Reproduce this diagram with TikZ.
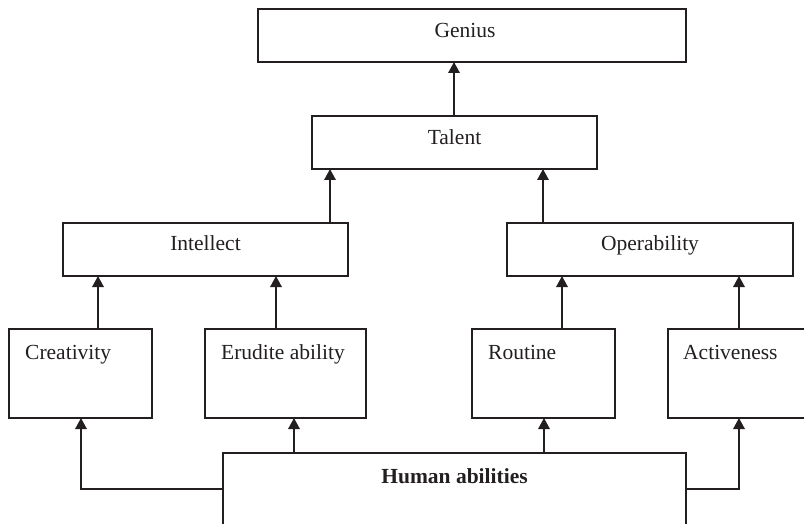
\documentclass[tikz,border=0pt]{standalone}
\usepackage{fontspec}
\setmainfont{Liberation Serif}
\usetikzlibrary{arrows.meta}
\definecolor{inkc}{HTML}{231F20}
\begin{document}
\begin{tikzpicture}[x=1pt,y=-1pt,
  ink/.style={draw=inkc, line width=1.6pt},
  box/.style 2 args={ink, rectangle, inner sep=0pt, outer sep=0pt,
    anchor=north west, minimum width=#1, minimum height=#2},
  lbl/.style={text=inkc, inner sep=0pt, font=\fontsize{21.5}{26}\selectfont},
  arr/.style={ink, -{Triangle[length=11pt,width=11.5pt]}}
]
\clip (0,0) rectangle (804,524);

% boxes
\node[box={428pt}{53pt}] (genius)      at (258,9)   {};
\node[box={285pt}{53pt}] (talent)      at (312,116) {};
\node[box={285pt}{53pt}] (intellect)   at (63,223)  {};
\node[box={286pt}{53pt}] (operability) at (507,223) {};
\node[box={143pt}{89pt}] (creativity)  at (9,329)   {};
\node[box={161pt}{89pt}] (erudite)     at (205,329) {};
\node[box={143pt}{89pt}] (routine)     at (472,329) {};
\node[box={160pt}{89pt}] (activeness)  at (668,329) {};
\node[box={463pt}{100pt}] (human)      at (223,453) {};

% labels
\node[lbl, anchor=base] (tgenius)      at (465,37.5)    {Genius};
\node[lbl, anchor=base] (ttalent)      at (454.5,144.3) {Talent};
\node[lbl, anchor=base] (tintellect)   at (205.5,250.7) {Intellect};
\node[lbl, anchor=base] (toperability) at (650,250.7)   {Operability};
\node[lbl, anchor=base west] (tcreativity) at (25,359)  {Creativity};
\node[lbl, anchor=base west] (terudite)    at (221,359) {Erudite ability};
\node[lbl, anchor=base west] (troutine)    at (488,359) {Routine};
\node[lbl, anchor=base west] (tactiveness) at (683,359) {Activeness};
\node[lbl, anchor=base, font=\fontsize{21.5}{26}\selectfont\bfseries] (thuman)
  at (454.5,483.3) {Human abilities};

% connector end points on the box borders
\coordinate (ttop) at ([xshift=142pt]talent.north west);
\coordinate (itop) at ([xshift=267pt]intellect.north west);
\coordinate (otop) at ([xshift=36pt]operability.north west);
\coordinate (ctop) at ([xshift=89pt]creativity.north west);
\coordinate (etop) at ([xshift=71pt]erudite.north west);
\coordinate (rtop) at ([xshift=90pt]routine.north west);
\coordinate (atop) at ([xshift=71pt]activeness.north west);
\coordinate (cbot) at ([xshift=72pt]creativity.south west);
\coordinate (abot) at ([xshift=71pt]activeness.south west);
\coordinate (hleft)  at ([yshift=-36pt]human.north west);
\coordinate (hright) at ([yshift=-36pt]human.north east);
\coordinate (hte) at ([xshift=71pt]human.north west);
\coordinate (htr) at ([xshift=321pt]human.north west);

% connectors
\draw[arr] (ttop) -- (ttop |- genius.south);
\draw[arr] (itop) -- (itop |- talent.south);
\draw[arr] (otop) -- (otop |- talent.south);
\draw[arr] (ctop) -- (ctop |- intellect.south);
\draw[arr] (etop) -- (etop |- intellect.south);
\draw[arr] (rtop) -- (rtop |- operability.south);
\draw[arr] (atop) -- (atop |- operability.south);
\draw[arr] (hleft) -| (cbot);
\draw[arr] (hte) -- (hte |- erudite.south);
\draw[arr] (htr) -- (htr |- routine.south);
\draw[arr] (hright) -| (abot);
\end{tikzpicture}
\end{document}
